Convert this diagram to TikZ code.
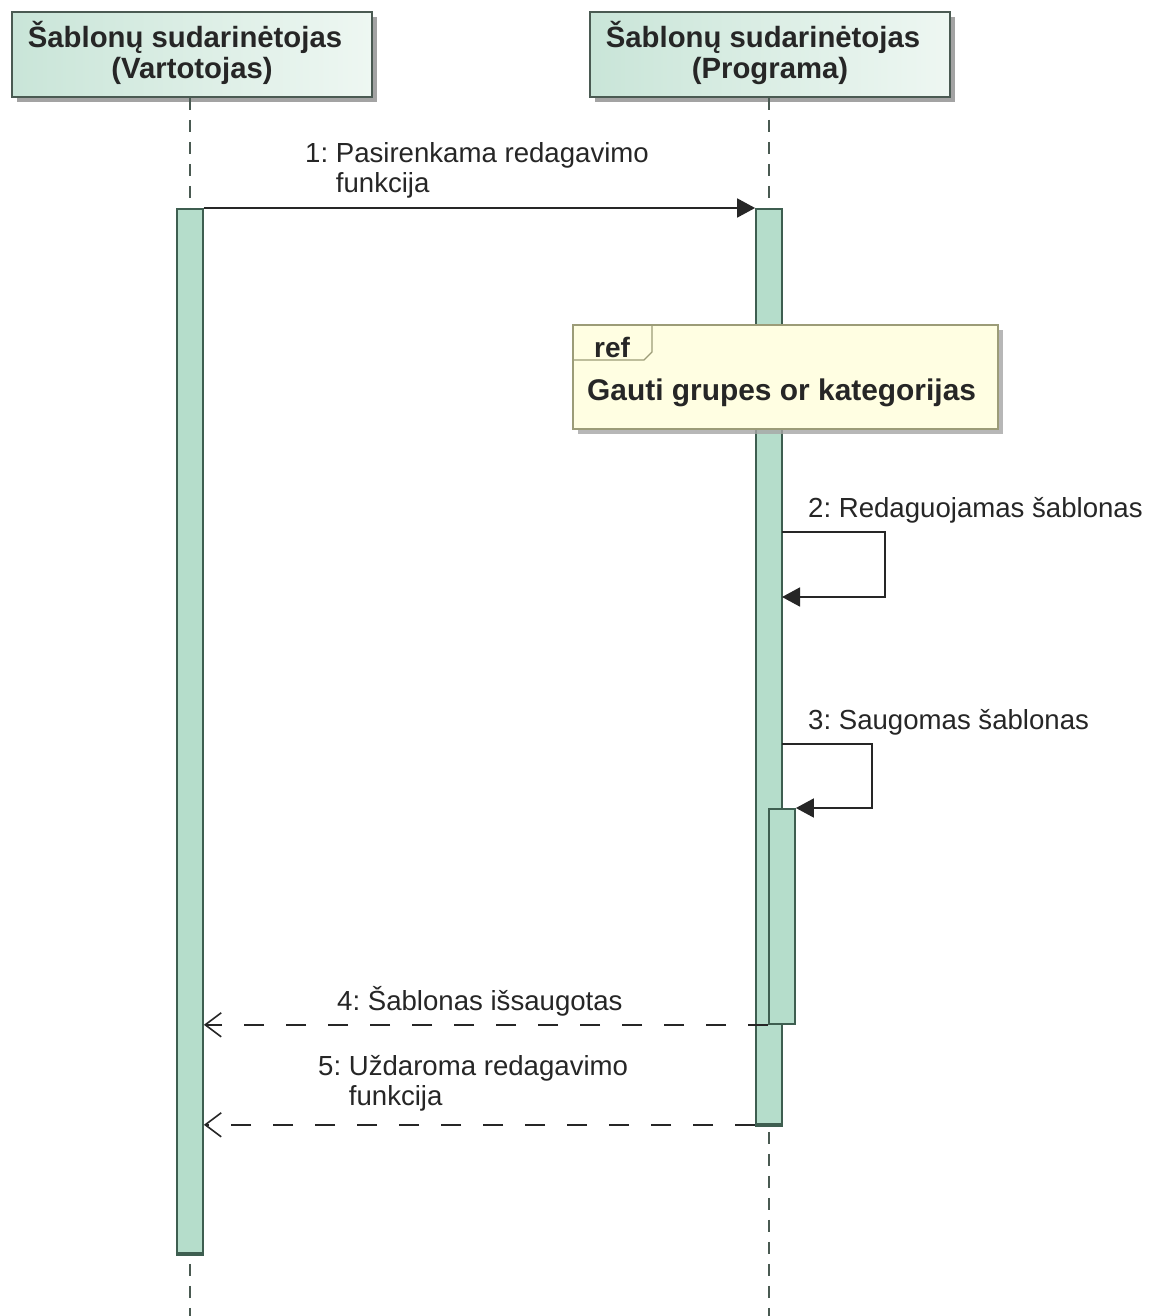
\documentclass[tikz,border=0pt]{standalone}
\usepackage{fontspec}
\setmainfont{Liberation Sans}
\usetikzlibrary{arrows.meta,shadows}
\definecolor{inkc}{HTML}{262626}
\definecolor{edgec}{HTML}{4A5A52}
\definecolor{actfill}{HTML}{B5DDCB}
\definecolor{actedge}{HTML}{3E5E50}
\definecolor{headl}{HTML}{C9E5D8}
\definecolor{headr}{HTML}{EEF7F2}
\definecolor{reffill}{HTML}{FFFEE2}
\definecolor{refedge}{HTML}{9C9C78}
\tikzset{
  header/.style={draw=edgec, line width=1.6pt, left color=headl, right color=headr,
    minimum width=360pt, minimum height=85pt, align=center, inner sep=0pt,
    font=\fontsize{29.3}{31}\selectfont\bfseries, text=inkc,
    drop shadow={shadow xshift=5pt, shadow yshift=-5pt, fill=black!45, opacity=0.8}},
  lifeline/.style={draw=edgec, line width=1.5pt, dash pattern=on 12pt off 10pt},
  activation/.style={draw=actedge, fill=actfill, line width=1.8pt,
    minimum width=26pt, inner sep=0pt, anchor=north},
  msg/.style={draw=inkc, line width=1.8pt, -{Triangle[length=18pt,width=19pt]}},
  reply/.style={draw=inkc, line width=1.8pt, dash pattern=on 20pt off 22pt,
    -{Straight Barb[length=16pt,width=24pt,line width=1.6pt]}},
  msglabel/.style={font=\fontsize{27.6}{30}\selectfont, text=inkc, align=left,
    anchor=north west, inner sep=0pt},
}
\newcommand{\headtext}[2]{\raisebox{9pt}{\shortstack{#1\hspace*{14pt}\\#2}}}
\begin{document}
\begin{tikzpicture}[x=1pt,y=-1pt]
\useasboundingbox[fill=white] (0,0) rectangle (1160,1316);

% lifeline heads
\node[header] (userhead) at (192,54.5) {\headtext{Šablonų sudarinėtojas}{(Vartotojas)}};
\node[header] (apphead) at (770,54.5) {\headtext{Šablonų sudarinėtojas}{(Programa)}};

% lifelines
\coordinate (userend) at (190,1316);
\coordinate (append) at (769,1316);
\draw[lifeline] (userhead.south -| userend) -- (userend);
\draw[lifeline] (apphead.south -| append) -- (append);

% activation bars
\node[activation, minimum height=1044pt] (actuser) at (190,208) {};
\node[activation, minimum height=915pt] (actapp) at (769,208) {};
\node[activation, minimum height=215pt] (actsave) at (782,808) {};
\draw[actedge, line width=4pt] (actuser.south west) -- (actuser.south east);
\draw[actedge, line width=4pt] (actapp.south west) -- (actapp.south east);

% interaction reference
\node[draw=refedge, fill=reffill, line width=1.5pt, minimum width=425pt, minimum height=104pt,
  anchor=north west, inner sep=0pt,
  drop shadow={shadow xshift=5pt, shadow yshift=-5pt, fill=black!35, opacity=0.8}]
  (refbox) at (572,324) {};
\draw[refedge, line width=1.3pt] (refbox.north west) ++(80,0) coordinate (tabr)
  -- ++(0,28) -- ++(-8,8) -- (refbox.north west |- 0,360);
\node[font=\fontsize{28}{30}\selectfont\bfseries, text=inkc, anchor=base west, inner sep=0pt]
  (reftag) at (594,357) {ref};
\node[font=\fontsize{29.9}{31}\selectfont\bfseries, text=inkc, anchor=base west, inner sep=0pt]
  (refname) at (587,400) {Gauti grupes or kategorijas};

% message 1
\draw[msg] (actuser.north east) -- (actapp.north west);
\node[msglabel] (m1) at (305,142) {1:\ Pasirenkama redagavimo\\\hphantom{1:\ }funkcija};

% message 2 (self call)
\coordinate (s2out) at (782,532);
\coordinate (s2in) at (782,597);
\draw[msg] (s2out) -- ++(103,0) |- (s2in);
\node[msglabel] (m2) at (808,497) {2:\ Redaguojamas šablonas};

% message 3 (self call into nested activation)
\coordinate (s3out) at (782,744);
\draw[msg] (s3out) -- ++(90,0) |- (actsave.north east);
\node[msglabel] (m3) at (808,709) {3:\ Saugomas šablonas};

% replies
\draw[reply] (actsave.south west) -- (actuser.east |- actsave.south);
\node[msglabel] (m4) at (337,986) {4:\ Šablonas išsaugotas};
\draw[reply] (actapp.south west) -- (actuser.east |- actapp.south);
\node[msglabel] (m5) at (318,1055) {5:\ Uždaroma redagavimo\\\hphantom{5:\ }funkcija};
\end{tikzpicture}
\end{document}
